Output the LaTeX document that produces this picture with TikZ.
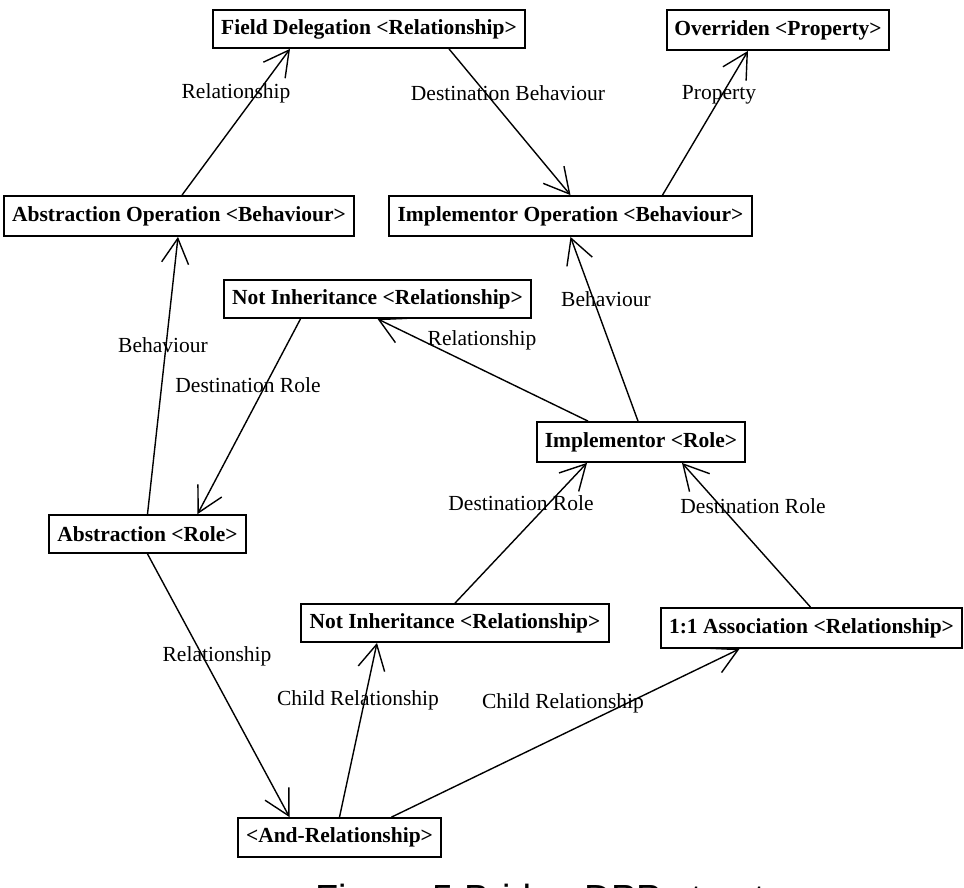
\documentclass[tikz,border=0pt]{standalone}
\usepackage{fontspec}
\setmainfont{Liberation Serif}
\newfontfamily\capfont{Liberation Sans}
\usetikzlibrary{arrows.meta}
\tikzset{
  box/.style={draw=black, line width=1.8pt, inner sep=0pt, font=\fontsize{21.5}{24}\bfseries\selectfont},
  lbl/.style={inner sep=0pt, font=\fontsize{21.5}{24}\selectfont},
  conn/.style={line width=1.4pt, -{Straight Barb[length=25pt,width=27pt,line width=1.4pt]}},
}
\begin{document}
\begin{tikzpicture}[x=1pt,y=-1pt]
\useasboundingbox (0,0) rectangle (964,887);
\clip (0,0) rectangle (964,887);
\fill[white] (0,0) rectangle (964,887);
% nodes
\node[box, minimum width=312pt, minimum height=38pt] (fd) at (369,29) {Field Delegation <Relationship>};
\node[box, minimum width=222pt, minimum height=40pt] (ov) at (778,30) {Overriden <Property>};
\node[box, minimum width=350pt, minimum height=40pt] (ao) at (179,216) {Abstraction Operation <Behaviour>};
\node[box, minimum width=363pt, minimum height=40pt] (io) at (570.5,216) {Implementor Operation <Behaviour>};
\node[box, minimum width=307pt, minimum height=38pt] (nit) at (377.5,299) {Not Inheritance <Relationship>};
\node[box, minimum width=208pt, minimum height=40pt] (ir) at (641,442) {Implementor <Role>};
\node[box, minimum width=197pt, minimum height=38pt] (ar) at (147.5,534) {Abstraction <Role>};
\node[box, minimum width=308pt, minimum height=38pt] (nib) at (455,623) {Not Inheritance <Relationship>};
\node[box, minimum width=301pt, minimum height=40pt] (as) at (811.5,628) {1:1 Association <Relationship>};
\node[box, minimum width=203pt, minimum height=39pt] (and) at (339.5,837.5) {<And-Relationship>};
% connectors
\draw[conn] ([xshift=3pt]ao.north) -- ([xshift=-79pt]fd.south);
\draw[conn] ([xshift=80pt]fd.south) -- ([xshift=0pt]io.north);
\draw[conn] ([xshift=92pt]io.north) -- ([xshift=-30pt]ov.south);
\draw[conn] ([xshift=0pt]ar.north) -- ([xshift=-1pt]ao.south);
\draw[conn] ([xshift=-77pt]nit.south) -- ([xshift=50pt]ar.north);
\draw[conn] ([xshift=-53pt]ir.north) -- ([xshift=0pt]nit.south);
\draw[conn] ([xshift=-3pt]ir.north) -- ([xshift=0pt]io.south);
\draw[conn] ([xshift=0pt]nib.north) -- ([xshift=-54pt]ir.south);
\draw[conn] ([xshift=-1pt]as.north) -- ([xshift=41pt]ir.south);
\draw[conn] ([xshift=0pt]ar.south) -- ([xshift=-50pt]and.north);
\draw[conn] ([xshift=0pt]and.north) -- ([xshift=-78pt]nib.south);
\draw[conn] ([xshift=52pt]and.north) -- ([xshift=-72pt]as.south);
% labels
\node[lbl] (l1) at (236,93) {Relationship};
\node[lbl] (l2) at (508,93) {Destination Behaviour};
\node[lbl] (l3) at (719,95) {Property};
\node[lbl] (l4) at (163,345) {Behaviour};
\node[lbl] (l5) at (248,385) {Destination Role};
\node[lbl] (l6) at (482,340) {Relationship};
\node[lbl] (l7) at (606,299) {Behaviour};
\node[lbl] (l8) at (521,503) {Destination Role};
\node[lbl] (l9) at (753,506) {Destination Role};
\node[lbl] (l10) at (217,656) {Relationship};
\node[lbl] (l11) at (358,700) {Child Relationship};
\node[lbl] (l12) at (563,703) {Child Relationship};
% caption (cut off at the bottom edge, as in the reference)
\node[inner sep=0pt, anchor=base west, font=\fontsize{37.8}{40}\capfont\selectfont] (cap) at (315,911) {Figure 5 Bridge DPP structure};
\end{tikzpicture}
\end{document}
